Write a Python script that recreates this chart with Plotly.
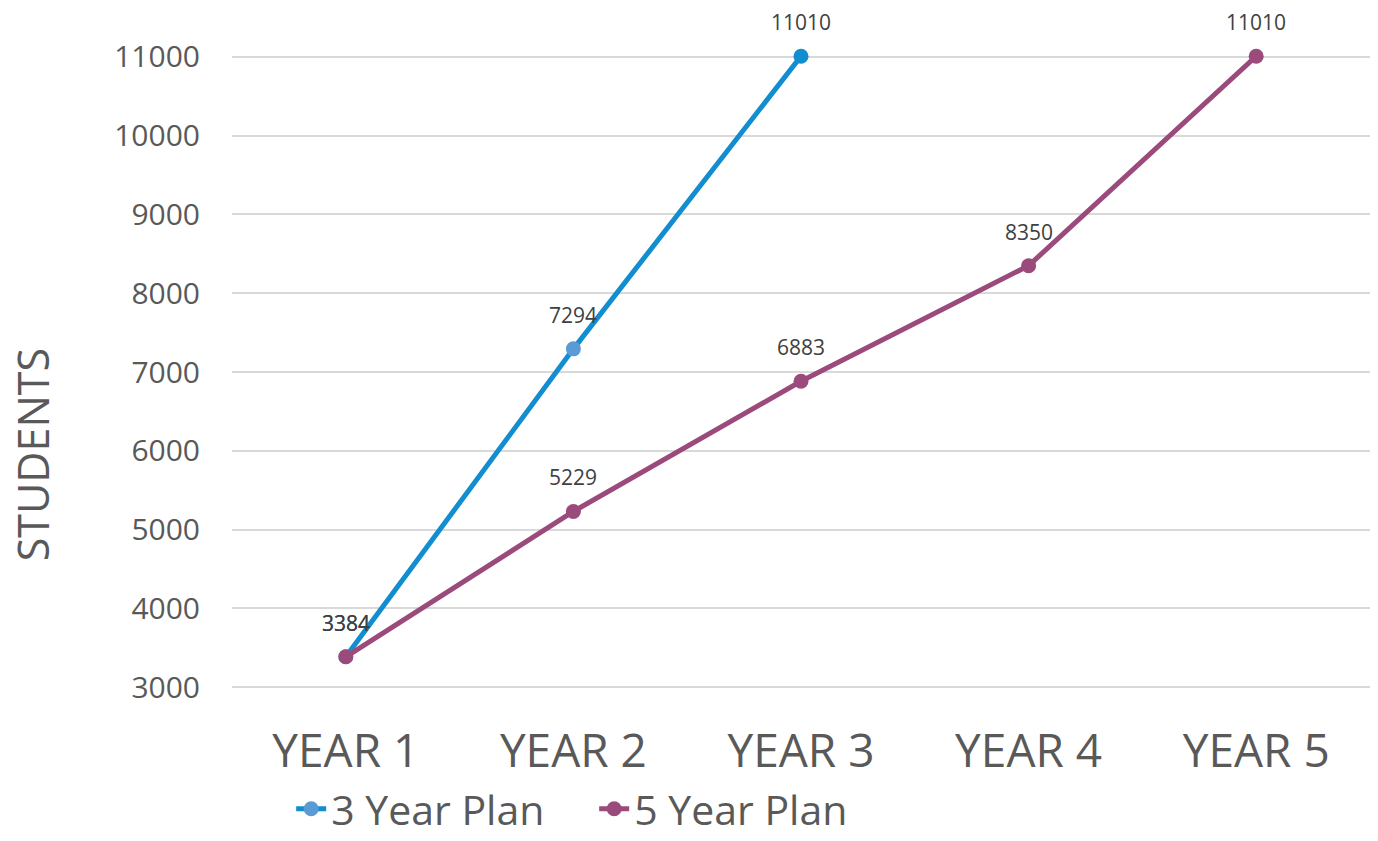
import plotly.graph_objects as go

years = ["YEAR 1", "YEAR 2", "YEAR 3", "YEAR 4", "YEAR 5"]
plan3_years = ["YEAR 1", "YEAR 2", "YEAR 3"]
plan3_values = [3384, 7294, 11010]
plan5_values = [3384, 5229, 6883, 8350, 11010]
y_ticks = [3000, 4000, 5000, 6000, 7000, 8000, 9000, 10000, 11000]

blue = "#128DCF"
light_blue = "#5B9BD5"
purple = "#9B4A7C"
font_family = "Open Sans, Noto Sans, sans-serif"

fig = go.Figure()
fig.add_trace(go.Scatter(
    x=plan3_years, y=plan3_values, name="3 Year Plan",
    mode="lines+markers",
    line=dict(color=blue, width=5),
    marker=dict(color=[light_blue, light_blue, blue], size=15),
    cliponaxis=False,
))
fig.add_trace(go.Scatter(
    x=years, y=plan5_values, name="5 Year Plan",
    mode="lines+markers",
    line=dict(color=purple, width=5),
    marker=dict(color=purple, size=15),
    cliponaxis=False,
))

# value labels above each point
for xs, ys in ((plan3_years, plan3_values), (years, plan5_values)):
    for x, y in zip(xs, ys):
        fig.add_annotation(
            x=x, y=y, text=str(y), showarrow=False, yshift=34,
            font=dict(size=21, color="#404040", family=font_family),
        )

# rotated axis title
fig.add_annotation(
    xref="paper", yref="paper", x=-0.175, y=0.37,
    xanchor="center", yanchor="middle",
    text="STUDENTS", textangle=-90, showarrow=False,
    font=dict(size=43, color="#595959", family=font_family),
)

fig.update_layout(
    width=1378, height=841,
    paper_bgcolor="white", plot_bgcolor="white",
    margin=dict(l=232, r=8, t=55, b=152, autoexpand=False),
    font=dict(family=font_family, color="#595959"),
    showlegend=True,
    legend=dict(
        orientation="h", x=0.052, xanchor="left",
        yref="container", y=0.038, yanchor="middle",
        font=dict(size=41, color="#595959"),
        entrywidth=258, entrywidthmode="pixels",
        tracegroupgap=0,
    ),
)
fig.update_xaxes(
    type="category", categoryorder="array", categoryarray=years,
    range=[-0.5, 4.5], showgrid=False, showline=False, zeroline=False,
    ticks="", ticklabelstandoff=31, automargin=False,
    tickfont=dict(size=46, color="#595959"),
)
fig.update_yaxes(
    range=[2975, 11025], tickvals=y_ticks, tickformat="d",
    showgrid=True, gridcolor="#D9D9D9", gridwidth=1.5,
    zeroline=False, showline=False, ticks="",
    ticklabelstandoff=31, automargin=False,
    tickfont=dict(size=30, color="#595959"),
)

fig.write_html("out.html")
